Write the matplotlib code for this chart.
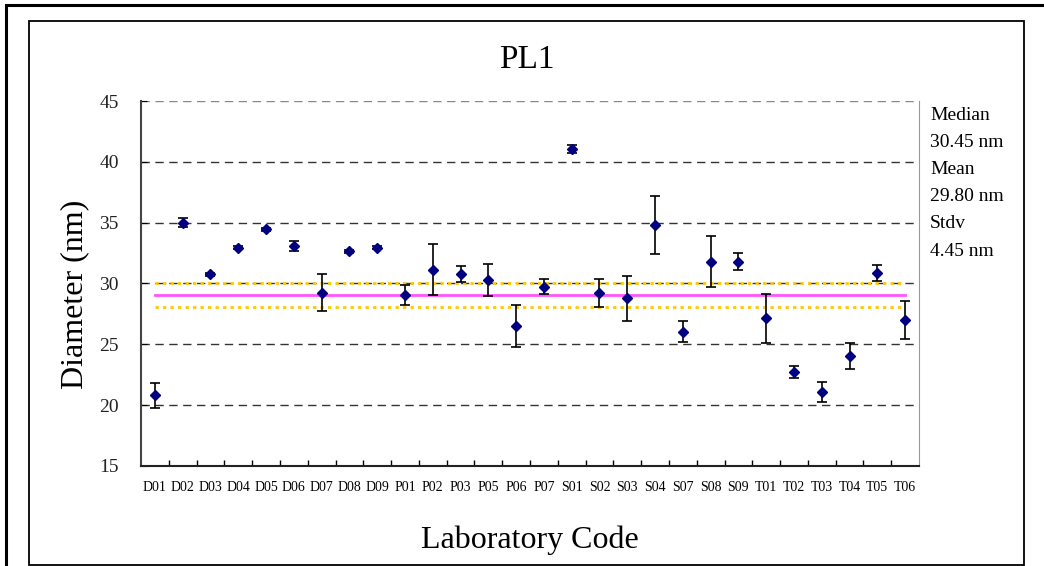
import matplotlib
matplotlib.use('Agg')
import matplotlib.pyplot as plt
from matplotlib.patches import Rectangle

plt.rcParams['font.family'] = ['Liberation Serif', 'DejaVu Serif']

# lab codes and measured diameters (nm)
labs = ['D01', 'D02', 'D03', 'D04', 'D05', 'D06', 'D07', 'D08', 'D09',
        'P01', 'P02', 'P03', 'P05', 'P06', 'P07',
        'S01', 'S02', 'S03', 'S04', 'S07', 'S08', 'S09',
        'T01', 'T02', 'T03', 'T04', 'T05', 'T06']
diam = [20.8, 35.0, 30.75, 32.95, 34.45, 33.1, 29.25, 32.65, 32.95,
        29.05, 31.15, 30.75, 30.3, 26.5, 29.75,
        41.05, 29.25, 28.8, 34.8, 26.05, 31.8, 31.8,
        27.15, 22.7, 21.1, 24.05, 30.85, 27.0]
err = [1.05, 0.35, 0.12, 0.12, 0.15, 0.4, 1.5, 0.12, 0.12,
       0.8, 2.1, 0.65, 1.3, 1.75, 0.65,
       0.35, 1.15, 1.85, 2.4, 0.85, 2.1, 0.7,
       2.0, 0.5, 0.8, 1.05, 0.65, 1.55]

ref_line = 29.05          # magenta reference
band = [28.1, 30.02]      # dotted limits
stats_txt = ['Median', '30.45 nm', 'Mean', '29.80 nm', 'Stdv', '4.45 nm']
yticks = [15, 20, 25, 30, 35, 40, 45]

fig = plt.figure(figsize=(10.44, 5.66), dpi=100)
ax = fig.add_axes([141 / 1044, 1 - 466 / 566, 778 / 1044, 365 / 566])

x = list(range(len(labs)))

# gridlines (top one is lighter, acts as the top frame)
for v in yticks[1:]:
    c = '#888888' if v == 45 else '#333333'
    ax.axhline(v, color=c, lw=1.0, ls=(0, (6, 4)), zorder=1)

# reference lines
ax.plot([x[0], x[-1]], [ref_line, ref_line], color='#ff55ff', lw=2, zorder=2)
for b in band:
    ax.plot([x[0], x[-1]], [b, b], color='#ffc800', lw=2, ls=(0, (1.2, 1.5)), zorder=2)

ax.errorbar(x, diam, yerr=err, fmt='D', color='#000080', ms=4.8,
            ecolor='black', elinewidth=1.2, capsize=3.6, capthick=1.2, zorder=3)

ax.set_xlim(-0.5, len(labs) - 0.5)
ax.set_ylim(15, 45)
ax.set_yticks(yticks)
ax.set_xticks(x)
ax.set_xticklabels(labs, fontsize=10)
ax.set_xticks([i + 0.5 for i in x[:-1]], minor=True)
ax.tick_params(axis='x', which='major', length=0, pad=11)
ax.tick_params(axis='x', which='minor', direction='in', length=4, width=1)
ax.tick_params(axis='y', direction='in', length=4, labelsize=14, pad=16,
               labelcolor='#222222')

ax.spines['top'].set_visible(False)
ax.spines['right'].set_color('#999999')
ax.spines['left'].set_color('#444444')
ax.spines['left'].set_linewidth(1.5)
ax.spines['bottom'].set_color('#222222')
ax.spines['bottom'].set_linewidth(1.5)

ax.set_ylabel('Diameter (nm)', fontsize=23)
ax.yaxis.set_label_coords(-0.067, 0.47)
ax.set_xlabel('Laboratory Code', fontsize=23)
ax.xaxis.label.set_va('center')
ax.xaxis.set_label_coords(0.5, -0.203)

fig.text(527 / 1044, 1 - 60 / 566, 'PL1', fontsize=24, ha='center', va='center')

# statistics text on the right
for i, t in enumerate(stats_txt):
    fig.text(930 / 1044, 1 - (115 + 27.2 * i) / 566, t, fontsize=14,
             ha='left', va='center')

# frames
fig.patches.append(Rectangle((6 / 1044, -0.1), 1.5, 1.1 - 5 / 566,
                             transform=fig.transFigure, fill=False,
                             lw=2.2, ec='black'))
fig.patches.append(Rectangle((29 / 1044, 1 - 565 / 566), 995 / 1044, 544 / 566,
                             transform=fig.transFigure, fill=False,
                             lw=1.3, ec='black'))

fig.savefig('out.png', dpi=100)
